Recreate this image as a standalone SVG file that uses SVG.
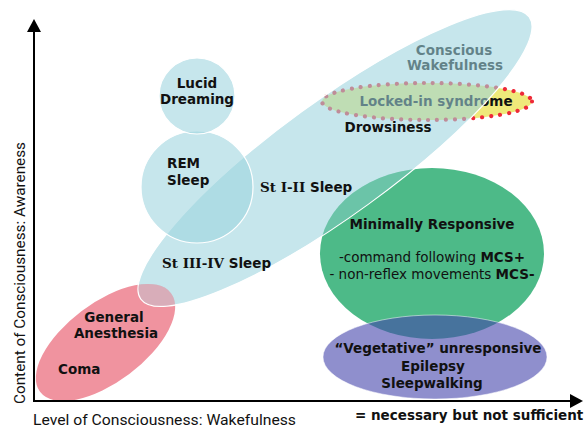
<svg xmlns="http://www.w3.org/2000/svg" width="585" height="431" viewBox="0 0 585 431">
<defs>
<marker id="ah" markerUnits="userSpaceOnUse" markerWidth="14" markerHeight="14" refX="3" refY="7" orient="auto"><path d="M0,0 L13,7 L0,14 z" fill="#000"/></marker>
<clipPath id="inBlue"><ellipse cx="335" cy="158" rx="239.4" ry="56.4" transform="rotate(-36 335 158)"/></clipPath>
</defs>
<style>
.lbl{font-family:"DejaVu Sans",Verdana,sans-serif;font-weight:bold;font-size:13.5px;fill:#111;text-anchor:middle}
.st{text-anchor:start}
.reg{font-weight:normal}
.b{font-weight:bold}
.ser{font-family:"DejaVu Serif",serif}
.axis{font-family:Roboto,"Liberation Sans",sans-serif;font-size:15px;fill:#111}
.blue{fill:#9dd4de;fill-opacity:.58;stroke:#fff;stroke-width:1.2}
.ax{stroke:#000;stroke-width:2;fill:none;marker-end:url(#ah)}
</style>
<rect width="585" height="431" fill="#fff"/>

<g id="coma">
<ellipse cx="105.5" cy="342.5" rx="82" ry="39.5" transform="rotate(-37 105.5 342.5)" fill="#f0939f"/>
<text class="lbl" x="114" y="322">General</text>
<text class="lbl" x="116" y="338">Anesthesia</text>
<text class="lbl st" x="58" y="374">Coma</text>
</g>

<g id="minimally-responsive">
<ellipse cx="432" cy="253.5" rx="112" ry="85.5" fill="#4dba88"/>
<text class="lbl" x="432" y="229">Minimally  Responsive</text>
<text class="lbl reg" x="432" y="262">-command following <tspan class="b">MCS+</tspan></text>
<text class="lbl reg" x="432" y="279">- non-reflex movements <tspan class="b">MCS-</tspan></text>
</g>

<g id="vegetative">
<ellipse cx="435" cy="357" rx="112" ry="42" fill="#4545ab" fill-opacity=".6" stroke="#fff" stroke-opacity=".5" stroke-width="1"/>
<text class="lbl" x="438" y="353">“Vegetative” unresponsive</text>
<text class="lbl" x="433" y="371">Epilepsy</text>
<text class="lbl" x="432" y="388">Sleepwalking</text>
</g>

<g id="locked-in">
<ellipse cx="427" cy="101.5" rx="105" ry="18.5" fill="#efe97a" stroke="#ee2a38" stroke-width="4.2" stroke-dasharray="0.01 9" stroke-linecap="round"/>
<text class="lbl" x="436" y="106">Locked-in syndrome</text>
</g>

<g id="wakefulness">
<text class="lbl" x="454" y="55" font-size="13">Conscious</text>
<text class="lbl" x="455" y="70" font-size="13">Wakefulness</text>
<ellipse class="blue" cx="335" cy="158" rx="240" ry="57" transform="rotate(-36 335 158)"/>
<g clip-path="url(#inBlue)">
<ellipse cx="105.5" cy="342.5" rx="82" ry="39.5" transform="rotate(-37 105.5 342.5)" fill="#f7a0ac" fill-opacity=".45"/>
<ellipse cx="432" cy="253.5" rx="112" ry="85.5" fill="#4dba88" fill-opacity=".35"/>
</g>
<text class="lbl" x="388" y="132">Drowsiness</text>
<text class="lbl st" x="260" y="192"><tspan class="ser">St I-II </tspan>Sleep</text>
<text class="lbl st" x="162" y="268"><tspan class="ser">St III-IV </tspan>Sleep</text>
</g>

<g id="rem-sleep">
<circle class="blue" cx="197" cy="187" r="56"/>
<text class="lbl st" x="167" y="168">REM</text>
<text class="lbl st" x="167" y="185">Sleep</text>
</g>

<g id="lucid-dreaming">
<circle class="blue" cx="197" cy="96" r="38"/>
<text class="lbl" x="197" y="88" font-size="12.5">Lucid</text>
<text class="lbl" x="197" y="104" font-size="12.5">Dreaming</text>
</g>

<g id="axes">
<line class="ax" x1="34" y1="402" x2="34" y2="29"/>
<line class="ax" x1="33" y1="401" x2="573" y2="401"/>
<text class="axis" x="33" y="425" textLength="263" lengthAdjust="spacingAndGlyphs">Level of Consciousness: Wakefulness</text>
<text class="axis" transform="translate(25,273) rotate(-90)" x="0" y="0" text-anchor="middle" textLength="262" lengthAdjust="spacingAndGlyphs">Content of Consciousness: Awareness</text>
<text class="lbl st" x="355" y="420">= necessary but not sufficient</text>
</g>
</svg>
